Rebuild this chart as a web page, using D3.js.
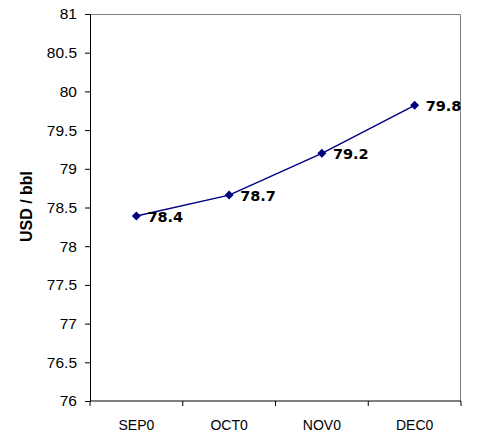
<!DOCTYPE html>
<html>
<head>
<meta charset="utf-8">
<script src="https://cdn.jsdelivr.net/npm/d3@7"></script>
<style>
  html, body { margin: 0; padding: 0; background: #fff; }
  svg { display: block; }
</style>
</head>
<body>
<svg id="chart" width="477" height="436"></svg>
<script>
// Monthly price series (USD per barrel)
const months = ["SEP0", "OCT0", "NOV0", "DEC0"];
const prices = [78.39, 78.66, 79.2, 79.82];
const yTicks = [76, 76.5, 77, 77.5, 78, 78.5, 79, 79.5, 80, 80.5, 81];
const yTitle = "USD / bbl";

const svg = d3.select("#chart");
const margin = { top: 14, right: 16, bottom: 35, left: 90 };
const W = 477, H = 436;
const innerW = W - margin.left - margin.right;
const innerH = H - margin.top - margin.bottom;

const g = svg.append("g").attr("transform", `translate(${margin.left},${margin.top})`);

const x = d3.scaleBand().domain(months).range([0, innerW]).padding(0);
const y = d3.scaleLinear().domain([76, 81]).range([innerH, 0]);

// plot frame (top and right edges)
g.append("path")
  .attr("d", `M0,0.5H${innerW - 0.5}V${innerH}`)
  .attr("fill", "none")
  .attr("stroke", "#808080")
  .attr("stroke-width", 1);

// y axis
const yAxis = g.append("g")
  .call(d3.axisLeft(y).tickValues(yTicks).tickSize(5).tickPadding(8).tickFormat(d3.format("")));
yAxis.select(".domain").attr("stroke", "#000");
yAxis.selectAll(".tick line").attr("stroke", "#000");
yAxis.selectAll("text")
  .attr("font-family", "Liberation Sans, Arial, sans-serif")
  .attr("font-size", 15.5)
  .attr("fill", "#000");

// x axis: ticks at category boundaries
const xAxis = g.append("g").attr("transform", `translate(0,${innerH})`);
xAxis.append("line")
  .attr("x1", 0).attr("x2", innerW)
  .attr("stroke", "#000");
const bounds = months.map(m => x(m)).concat([innerW]);
xAxis.selectAll("line.bt").data(bounds).enter().append("line")
  .attr("class", "bt")
  .attr("x1", d => d).attr("x2", d => d)
  .attr("y1", 0).attr("y2", 5)
  .attr("stroke", "#000");
xAxis.selectAll("text").data(months).enter().append("text")
  .attr("x", d => x(d) + x.bandwidth() / 2)
  .attr("y", 29)
  .attr("text-anchor", "middle")
  .attr("font-family", "Liberation Sans, Arial, sans-serif")
  .attr("font-size", 14)
  .attr("fill", "#000")
  .text(d => d);

// y axis title
svg.append("text")
  .attr("transform", `translate(32,206.5) rotate(-90)`)
  .attr("text-anchor", "middle")
  .attr("font-family", "Liberation Sans, Arial, sans-serif")
  .attr("font-weight", "bold")
  .attr("font-size", 16)
  .attr("fill", "#000")
  .text(yTitle);

const data = months.map((m, i) => ({ m, v: prices[i] }));
const cx = d => x(d.m) + x.bandwidth() / 2;

// line
g.append("path")
  .datum(data)
  .attr("fill", "none")
  .attr("stroke", "#000080")
  .attr("stroke-width", 1.5)
  .attr("d", d3.line().x(cx).y(d => y(d.v)));

// diamond markers
g.selectAll("path.mk").data(data).enter().append("path")
  .attr("class", "mk")
  .attr("transform", d => `translate(${cx(d)},${y(d.v)})`)
  .attr("d", "M0,-4.5L4.5,0L0,4.5L-4.5,0Z")
  .attr("fill", "#000080");

// value labels
g.selectAll("text.lbl").data(data).enter().append("text")
  .attr("class", "lbl")
  .attr("x", d => cx(d) + 11)
  .attr("y", d => y(d.v))
  .attr("dy", "0.38em")
  .attr("font-family", "DejaVu Sans, Verdana, sans-serif")
  .attr("font-weight", "bold")
  .attr("font-size", 14.5)
  .attr("fill", "#000")
  .text(d => d3.format(".1f")(d.v));
</script>
</body>
</html>
